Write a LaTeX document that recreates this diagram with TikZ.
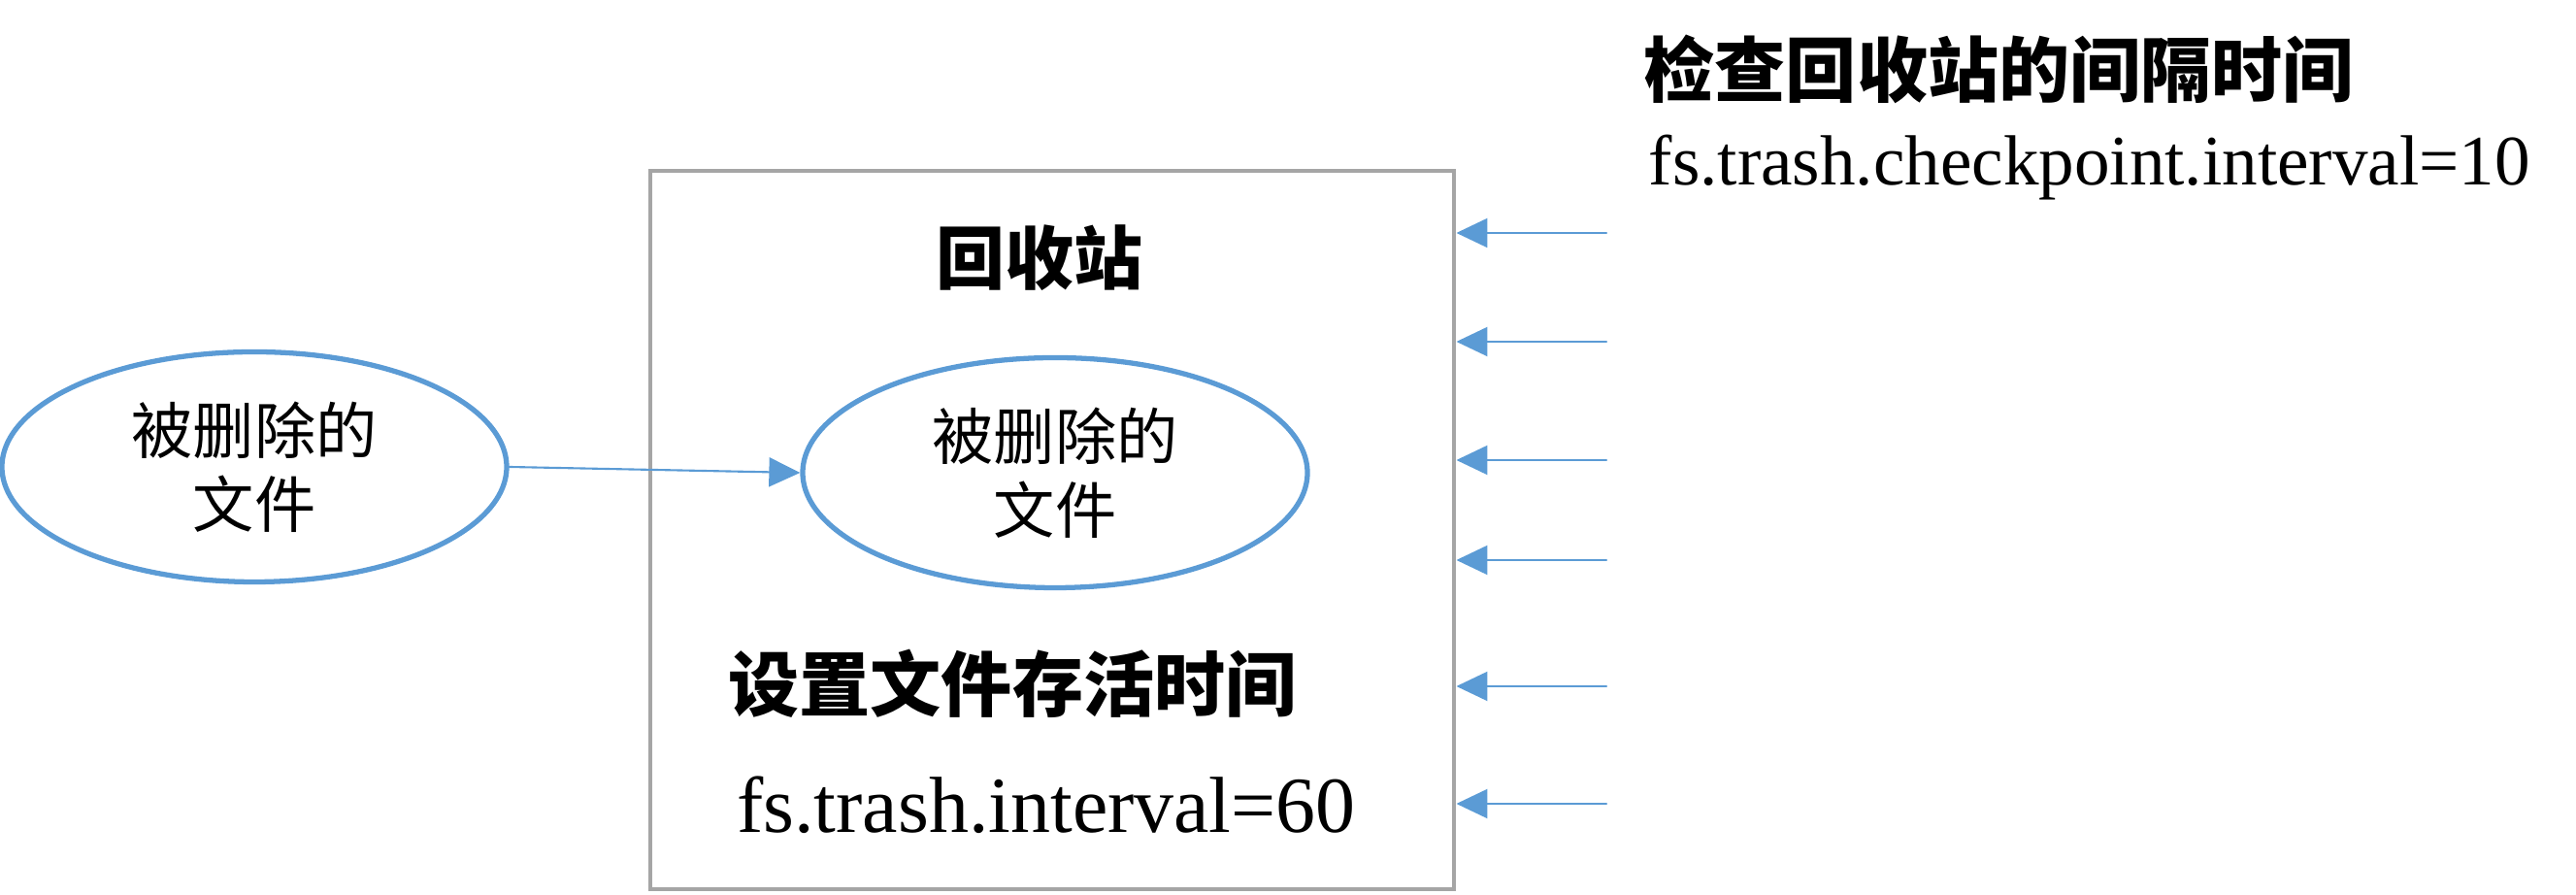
\documentclass[tikz,border=0pt]{standalone}
\usepackage{fontspec}
\setmainfont{Liberation Serif}
\newfontfamily\cjk{Noto Sans CJK SC}
\usepackage{tikz}
\usetikzlibrary{arrows.meta,shapes.geometric}
\usepackage{xcolor}
\definecolor{lineblue}{HTML}{5B9BD5}
\definecolor{boxgray}{HTML}{A5A5A5}

\begin{document}
\begin{tikzpicture}[>={Triangle[length=3.2mm,width=3mm]},line cap=round,
  oval/.style={ellipse,draw=lineblue,line width=1.5pt,minimum width=5.2cm,minimum height=2.37cm,
    inner sep=0pt,align=center,font=\cjk\fontsize{18}{21.6}\selectfont},
  flow/.style={->,lineblue,line width=0.6pt},
  head/.style={font=\cjk\bfseries\fontsize{#1}{#1}\selectfont},
  param/.style={font=\fontsize{#1}{#1}\selectfont}]
\useasboundingbox (0,0) rectangle (26.54,9.22);
\node[draw=boxgray,line width=1.4pt,minimum width=8.28cm,minimum height=7.40cm] (bin) at (10.84,3.76) {};
\node[head=20.2] (bintitle) at (10.71,6.56) {回收站};
\node[oval] (del) at (2.62,4.41) {被删除的\\文件};
\node[oval] (kept) at (10.87,4.35) {被删除的\\文件};
\node[head=20.8] (ttl) at (10.43,2.18) {设置文件存活时间};
\node[param=23.3] (ttlval) at (10.78,0.93) {fs.trash.interval=60};
\node[head=20.8,anchor=west,inner sep=0pt] (chk) at (16.93,8.51) {检查回收站的间隔时间};
\node[param=20.8,anchor=west,inner sep=0pt] (chkval) at (16.98,7.49) {fs.trash.checkpoint.interval=10};
\draw[flow] (del.east) -- (kept.west);
\foreach \y [count=\i] in {6.82,5.70,4.48,3.45,2.15,0.94}{
  \coordinate (tick\i) at (16.55,\y);
  \draw[flow] (tick\i) -- (tick\i -| bin.east);
}
\end{tikzpicture}
\end{document}
